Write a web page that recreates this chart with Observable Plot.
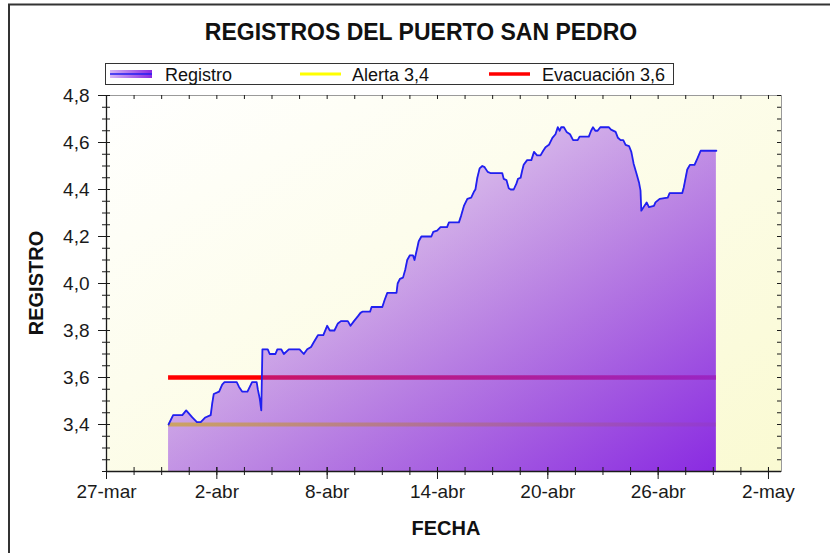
<!DOCTYPE html>
<html><head><meta charset="utf-8">
<script src="https://cdn.jsdelivr.net/npm/d3@7"></script>
<script src="https://cdn.jsdelivr.net/npm/@observablehq/plot@0.6"></script>
<style>
html,body{margin:0;padding:0;background:#fff;}
#wrap{position:relative;width:830px;height:553px;overflow:hidden;font-family:"Liberation Sans",Arial,sans-serif;}
#wrap > svg{position:absolute;left:0;top:0;}
</style></head>
<body><div id="wrap"></div>
<script>
// ---- data ----
const fechas = [
"2023-03-30T09:00Z","2023-03-30T15:00Z","2023-03-31T03:00Z","2023-03-31T08:00Z","2023-03-31T16:00Z","2023-03-31T22:00Z",
"2023-04-01T03:00Z","2023-04-01T09:00Z","2023-04-01T16:00Z","2023-04-01T18:00Z","2023-04-01T20:00Z",
"2023-04-02T03:00Z","2023-04-02T07:00Z","2023-04-02T10:00Z",
"2023-04-03T02:00Z","2023-04-03T05:00Z","2023-04-03T09:00Z","2023-04-03T16:00Z","2023-04-03T22:00Z",
"2023-04-04T04:00Z","2023-04-04T05:30Z","2023-04-04T08:00Z","2023-04-04T10:00Z","2023-04-04T11:30Z","2023-04-04T18:30Z","2023-04-04T21:00Z",
"2023-04-05T04:30Z","2023-04-05T07:00Z","2023-04-05T12:00Z","2023-04-05T15:30Z","2023-04-05T22:00Z",
"2023-04-06T12:00Z","2023-04-06T17:30Z","2023-04-06T22:00Z",
"2023-04-07T03:00Z","2023-04-07T06:30Z","2023-04-07T12:00Z","2023-04-07T19:00Z",
"2023-04-08T00:00Z","2023-04-08T03:30Z","2023-04-08T09:30Z","2023-04-08T14:00Z","2023-04-08T18:00Z",
"2023-04-09T03:00Z","2023-04-09T06:30Z","2023-04-09T11:00Z","2023-04-09T16:00Z","2023-04-09T19:30Z","2023-04-09T22:00Z",
"2023-04-10T08:00Z","2023-04-10T10:00Z",
"2023-04-11T00:00Z","2023-04-11T03:00Z","2023-04-11T06:30Z","2023-04-11T18:30Z","2023-04-11T20:00Z","2023-04-11T23:00Z",
"2023-04-12T03:00Z","2023-04-12T06:00Z","2023-04-12T08:30Z","2023-04-12T12:00Z","2023-04-12T16:00Z","2023-04-12T18:00Z","2023-04-12T21:30Z","2023-04-12T23:30Z",
"2023-04-13T03:00Z","2023-04-13T16:00Z","2023-04-13T18:30Z","2023-04-13T23:30Z",
"2023-04-14T04:00Z","2023-04-14T12:30Z","2023-04-14T15:00Z",
"2023-04-15T04:00Z","2023-04-15T07:00Z","2023-04-15T10:30Z","2023-04-15T15:00Z","2023-04-15T20:00Z","2023-04-15T23:30Z",
"2023-04-16T01:30Z","2023-04-16T04:00Z","2023-04-16T07:00Z","2023-04-16T10:30Z","2023-04-16T13:30Z","2023-04-16T17:30Z","2023-04-16T21:00Z",
"2023-04-17T12:30Z","2023-04-17T14:30Z","2023-04-17T18:00Z","2023-04-17T21:00Z","2023-04-17T23:30Z",
"2023-04-18T03:30Z","2023-04-18T07:00Z","2023-04-18T09:00Z","2023-04-18T12:30Z","2023-04-18T14:30Z","2023-04-18T16:30Z","2023-04-18T21:00Z",
"2023-04-19T02:30Z","2023-04-19T06:00Z","2023-04-19T10:00Z","2023-04-19T14:30Z","2023-04-19T18:00Z","2023-04-19T21:00Z",
"2023-04-20T01:30Z","2023-04-20T06:00Z","2023-04-20T10:00Z","2023-04-20T13:00Z","2023-04-20T15:30Z","2023-04-20T17:30Z","2023-04-20T21:00Z",
"2023-04-21T00:30Z","2023-04-21T05:00Z","2023-04-21T09:00Z","2023-04-21T15:00Z","2023-04-21T17:30Z",
"2023-04-22T05:30Z","2023-04-22T08:30Z","2023-04-22T11:00Z","2023-04-22T14:00Z","2023-04-22T17:00Z","2023-04-22T20:30Z",
"2023-04-23T07:30Z","2023-04-23T10:30Z","2023-04-23T16:30Z","2023-04-23T19:30Z","2023-04-23T23:00Z",
"2023-04-24T02:30Z","2023-04-24T05:30Z","2023-04-24T10:00Z","2023-04-24T13:00Z","2023-04-24T16:00Z","2023-04-24T20:00Z","2023-04-24T23:00Z",
"2023-04-25T01:00Z","2023-04-25T02:00Z","2023-04-25T05:00Z","2023-04-25T09:00Z","2023-04-25T12:00Z","2023-04-25T18:30Z","2023-04-25T20:30Z",
"2023-04-26T02:00Z","2023-04-26T12:30Z","2023-04-26T15:00Z",
"2023-04-27T07:30Z","2023-04-27T09:30Z","2023-04-27T14:00Z","2023-04-27T17:30Z","2023-04-27T23:30Z",
"2023-04-28T03:00Z","2023-04-28T07:30Z","2023-04-29T04:00Z"
];
const registro = [
3.40,3.44,3.44,3.46,3.43,3.41,
3.41,3.43,3.44,3.49,3.53,
3.54,3.57,3.58,
3.58,3.56,3.54,3.54,3.58,
3.58,3.55,3.51,3.46,3.72,3.72,3.70,
3.70,3.72,3.72,3.70,3.72,
3.72,3.70,3.72,
3.73,3.75,3.78,3.78,
3.82,3.80,3.80,3.83,3.84,
3.84,3.82,3.84,3.86,3.875,3.88,
3.88,3.90,
3.90,3.93,3.96,3.96,4.00,4.02,
4.025,4.06,4.10,4.12,4.12,4.10,4.15,4.18,
4.20,4.20,4.22,4.225,
4.24,4.24,4.26,
4.26,4.29,4.33,4.36,4.365,4.39,
4.40,4.45,4.49,4.50,4.495,4.475,4.47,
4.47,4.445,4.44,4.405,4.40,
4.40,4.425,4.445,4.45,4.48,4.505,4.525,
4.525,4.56,4.545,4.545,4.565,4.58,
4.59,4.62,4.635,4.665,4.65,4.665,4.665,
4.645,4.635,4.61,4.61,4.625,
4.625,4.65,4.665,4.65,4.65,4.665,
4.665,4.655,4.645,4.62,4.61,
4.61,4.59,4.585,4.56,4.51,4.465,4.43,
4.395,4.31,4.325,4.345,4.325,4.33,4.345,
4.36,4.365,4.385,
4.385,4.41,4.485,4.505,4.505,
4.53,4.565,4.565
];
const serieNombre = "Registro";
const umbralNombres = ["Alerta 3,4", "Evacuación 3,6"];
const umbralValores = [3.4, 3.6];
const xDominio = ["2023-03-27T00:00Z", "2023-05-02T17:00Z"];
const xTickFechas = ["2023-03-27T00:00Z","2023-04-02T00:00Z","2023-04-08T00:00Z","2023-04-14T00:00Z","2023-04-20T00:00Z","2023-04-26T00:00Z","2023-05-02T00:00Z"];
const xTickEtiquetas = ["27-mar","2-abr","8-abr","14-abr","20-abr","26-abr","2-may"];
const yDominio = [3.2, 4.8];
const yTickValores = [3.4, 3.6, 3.8, 4.0, 4.2, 4.4, 4.6, 4.8];
const yTickEtiquetas = ["3,4","3,6","3,8","4,0","4,2","4,4","4,6","4,8"];
const titulo = "REGISTROS DEL PUERTO SAN PEDRO";
const xTitulo = "FECHA";
const yTitulo = "REGISTRO";

// ---- build ----
const datos = fechas.map((f, i) => ({fecha: new Date(f), valor: registro[i]}));
const inicio = datos[0].fecha, fin = datos[datos.length - 1].fecha;
const xMajor = xTickFechas.map(d => new Date(d));
const t0 = xMajor[0].getTime(), t1 = xMajor[xMajor.length - 1].getTime();
const xMinor = d3.range(t0, t1 + 1, 36 * 3600 * 1000).map(t => new Date(t));
const yMinor = d3.range(0, 33).map(i => +(yDominio[0] + i * 0.05).toFixed(2));

const W = 830, H = 553, mL = 106, mR = 49, mT = 95, mB = 82;
const FH = H - mT - mB, FW = W - mL - mR;
const ink = "#1a1a1a";
const umbralColores = ["#ffff00", "#ff0000"];
const umbralGrosor = [4, 4.5];

const chart = Plot.plot({
  width: W, height: H,
  marginLeft: mL, marginRight: mR, marginTop: mT, marginBottom: mB,
  style: {background: "transparent", fontFamily: "'Liberation Sans', Arial, sans-serif", fontSize: "19px", color: ink, overflow: "visible"},
  x: {type: "utc", domain: xDominio.map(d => new Date(d)), axis: null},
  y: {domain: yDominio, axis: null},
  marks: [
    Plot.frame({fill: "url(#gFondo)", stroke: "#9a9a9a", strokeWidth: 1}),
    ...umbralValores.map((v, i) => Plot.ruleY([v], {x1: () => inicio, x2: () => fin, stroke: umbralColores[i], strokeWidth: umbralGrosor[i]})),
    Plot.areaY(datos, {x: "fecha", y1: () => yDominio[0], y2: "valor", fill: "url(#gArea)"}),
    Plot.line(datos, {x: "fecha", y: "valor", stroke: "#2020f0", strokeWidth: 1.8}),
    // left & bottom axis lines
    Plot.ruleX([xMajor[0]], {stroke: ink, strokeWidth: 1.3}),
    Plot.ruleY([yDominio[0]], {stroke: ink, strokeWidth: 1.3}),
    // x ticks (bottom, crossing) and mirrored top
    Plot.tickX(xMajor, {x: d => d, insetTop: FH - 4, insetBottom: -8, stroke: ink}),
    Plot.tickX(xMinor, {x: d => d, insetTop: FH - 4, insetBottom: -4, stroke: ink}),
    Plot.tickX(xMinor, {x: d => d, insetBottom: FH - 4, stroke: ink}),
    // y ticks (left, crossing) and mirrored right
    Plot.tickY(yTickValores, {y: d => d, insetRight: FW - 4, insetLeft: -8, stroke: ink}),
    Plot.tickY(yMinor, {y: d => d, insetRight: FW - 4, insetLeft: -4, stroke: ink}),
    Plot.tickY(yMinor, {y: d => d, insetLeft: FW - 4, stroke: ink}),
    // tick labels
    Plot.text(xMajor, {x: d => d, text: (d, i) => xTickEtiquetas[i], frameAnchor: "bottom", dy: 26, fill: ink}),
    Plot.text(yTickValores, {y: d => d, text: (d, i) => yTickEtiquetas[i], frameAnchor: "left", textAnchor: "end", dx: -17, fill: ink})
  ]
});

// gradients
const defs = d3.select(chart).insert("defs", ":first-child");
const ga = defs.append("linearGradient").attr("id", "gArea").attr("x1", 0).attr("y1", 0).attr("x2", 1).attr("y2", 1);
ga.append("stop").attr("offset", "0%").attr("stop-color", "#8a2be2").attr("stop-opacity", 0.0);
ga.append("stop").attr("offset", "100%").attr("stop-color", "#8a2be2").attr("stop-opacity", 1);
const gb = defs.append("linearGradient").attr("id", "gFondo").attr("x1", 0).attr("y1", 0).attr("x2", 1).attr("y2", 1);
gb.append("stop").attr("offset", "0%").attr("stop-color", "#ffffff");
gb.append("stop").attr("offset", "100%").attr("stop-color", "#fafad2");
const gl = defs.append("linearGradient").attr("id", "gLeyenda").attr("x1", 0).attr("y1", 0).attr("x2", 1).attr("y2", 0);
gl.append("stop").attr("offset", "0%").attr("stop-color", "#8a2be2").attr("stop-opacity", 0.35);
gl.append("stop").attr("offset", "100%").attr("stop-color", "#8a2be2").attr("stop-opacity", 1);

const wrap = document.getElementById("wrap");
wrap.appendChild(chart);

// overlay: frame lines, title, legend, axis titles
const ov = d3.select(wrap).append("svg").attr("width", W).attr("height", H)
  .style("font-family", "'Liberation Sans', Arial, sans-serif");
ov.append("line").attr("x1", 8).attr("x2", W).attr("y1", 4.5).attr("y2", 4.5).attr("stroke", "#333").attr("stroke-width", 2);
ov.append("line").attr("x1", 9).attr("x2", 9).attr("y1", 4).attr("y2", H).attr("stroke", "#333").attr("stroke-width", 2);
ov.append("text").attr("x", 421).attr("y", 40).attr("text-anchor", "middle")
  .attr("font-size", 23).attr("font-weight", "bold").attr("fill", "#111").text(titulo);

const lg = ov.append("g");
lg.append("rect").attr("x", 105.5).attr("y", 63.5).attr("width", 568).attr("height", 21)
  .attr("fill", "#fff").attr("stroke", "#333").attr("stroke-width", 1);
lg.append("rect").attr("x", 110).attr("y", 70).attr("width", 42).attr("height", 8).attr("fill", "url(#gLeyenda)");
lg.append("line").attr("x1", 110).attr("x2", 152).attr("y1", 74).attr("y2", 74).attr("stroke", "#2020f0").attr("stroke-width", 1.5);
lg.append("text").attr("x", 165).attr("y", 80.5).attr("font-size", 18).attr("fill", "#111").text(serieNombre);
const lgx = [[300, 341, 352], [489, 530, 542]];
umbralNombres.forEach((n, i) => {
  lg.append("line").attr("x1", lgx[i][0]).attr("x2", lgx[i][1]).attr("y1", 74).attr("y2", 74)
    .attr("stroke", umbralColores[i]).attr("stroke-width", umbralGrosor[i] - 1);
  lg.append("text").attr("x", lgx[i][2]).attr("y", 80.5).attr("font-size", 18).attr("fill", "#111").text(n);
});
ov.insert("defs", ":first-child").html(defs.html());

ov.append("text").attr("x", 446).attr("y", 535).attr("text-anchor", "middle")
  .attr("font-size", 20).attr("font-weight", "bold").attr("fill", "#111").text(xTitulo);
ov.append("text").attr("transform", "translate(43,283) rotate(-90)").attr("text-anchor", "middle")
  .attr("font-size", 20).attr("font-weight", "bold").attr("fill", "#111").text(yTitulo);
</script>
</body></html>
